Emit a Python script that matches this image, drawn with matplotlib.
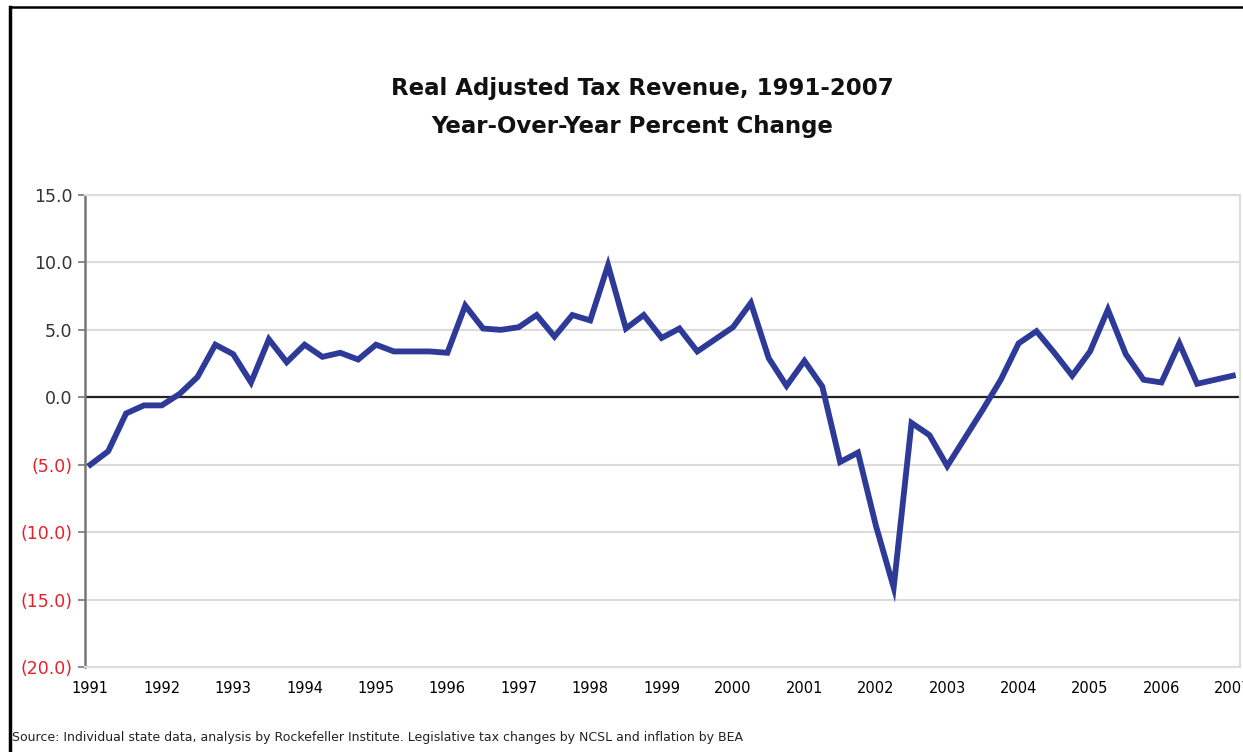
import numpy as np
import matplotlib.pyplot as plt
from matplotlib.lines import Line2D

# quarterly year-over-year % change, 1991 Q1 .. 2007 Q1
pct_change = [
    -5.0, -4.0, -1.2, -0.6, -0.6, 0.25, 1.5, 3.9,
    3.2, 1.1, 4.3, 2.6, 3.9, 3.0, 3.3, 2.8,
    3.9, 3.4, 3.4, 3.4, 3.3, 6.8, 5.1, 5.0,
    5.2, 6.1, 4.5, 6.1, 5.7, 9.8, 5.1, 6.1,
    4.4, 5.1, 3.4, 4.3, 5.2, 7.0, 2.9, 0.85,
    2.7, 0.8, -4.8, -4.1, -9.5, -14.1, -1.9, -2.8,
    -5.1, -3.0, -0.9, 1.3, 4.0, 4.9, 3.3, 1.6,
    3.4, 6.5, 3.2, 1.3, 1.1, 4.0, 1.0, 1.3, 1.6,
]
years = [str(y) for y in range(1991, 2008)]
y_ticks = [15, 10, 5, 0, -5, -10, -15, -20]
y_labels = ['15.0', '10.0', '5.0', '0.0', '(5.0)', '(10.0)', '(15.0)', '(20.0)']

W, H = 1243, 752
fig = plt.figure(figsize=(W / 100, H / 100), dpi=100)
ax = fig.add_axes([85 / W, 1 - 667 / H, (1240 - 85) / W, (667 - 195) / H])

quarters = np.arange(len(pct_change))
ax.plot(quarters, pct_change, color='#2D3A98', lw=4.2, solid_joinstyle='miter', zorder=3)
ax.axhline(0, color='#222222', lw=1.6, zorder=2)

ax.set_ylim(-20, 15)
ax.set_xlim(-0.3, 64.4)
ax.set_yticks(y_ticks)
ax.set_yticklabels(y_labels)
for lab, v in zip(ax.get_yticklabels(), y_ticks):
    lab.set_color('#E8202A' if v < 0 else '#333333')
ax.tick_params(axis='y', length=5, width=1.2, color='#777777', labelsize=12.5, pad=4)
ax.grid(axis='y', color='#DCDCDC', lw=1.5)
ax.set_axisbelow(True)

ax.set_xticks(quarters[::4])
ax.set_xticklabels(years, fontfamily='Liberation Sans Narrow', fontsize=10.5)
ax.tick_params(axis='x', length=0, pad=10)

for s in ['top', 'bottom', 'right']:
    ax.spines[s].set_color('#DCDCDC')
    ax.spines[s].set_linewidth(1.5)
ax.spines['left'].set_color('#777777')
ax.spines['left'].set_linewidth(1.8)

fig.text(642 / W, 1 - 88 / H, 'Real Adjusted Tax Revenue, 1991-2007',
         ha='center', va='center', fontsize=16.5, fontweight='bold', color='#111111')
fig.text(632 / W, 1 - 127 / H, 'Year-Over-Year Percent Change',
         ha='center', va='center', fontsize=16.5, fontweight='bold', color='#111111')
fig.text(12 / W, 1 - 738 / H,
         'Source: Individual state data, analysis by Rockefeller Institute. '
         'Legislative tax changes by NCSL and inflation by BEA',
         ha='left', va='center', fontsize=9, color='#222222')

# outer frame lines
fig.add_artist(Line2D([10 / W, 1], [1 - 7 / H, 1 - 7 / H], color='black', lw=1.8))
fig.add_artist(Line2D([10 / W, 10 / W], [0, 1 - 7 / H], color='black', lw=2.5))

fig.savefig('out.png', dpi=100)
